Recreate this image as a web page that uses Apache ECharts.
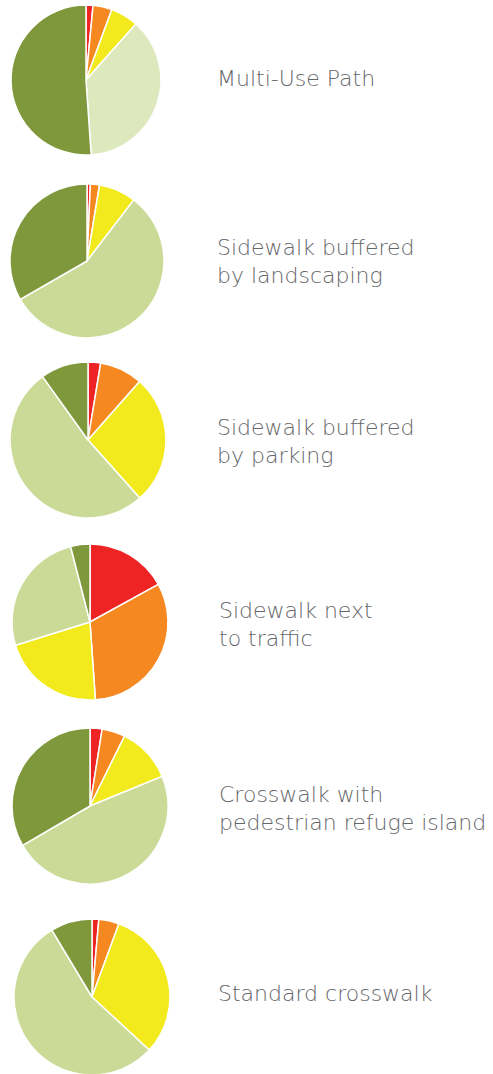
<!DOCTYPE html>
<html>
<head>
<meta charset="utf-8">
<script src="https://cdn.jsdelivr.net/npm/echarts@6/dist/echarts.min.js"></script>
<style>
  html, body { margin: 0; padding: 0; background: #fff; }
  #chart { width: 493px; height: 1074px; }
</style>
</head>
<body>
<div id="chart"></div>
<script>
// categories (clockwise from 12 o'clock)
let levels = ['Red', 'Orange', 'Yellow', 'Light green', 'Dark green'];
let facilities = ['Multi-Use Path', 'Sidewalk buffered\nby landscaping', 'Sidewalk buffered\nby parking',
    'Sidewalk next\nto traffic', 'Crosswalk with\npedestrian refuge island', 'Standard crosswalk'];

// shares in percent, one list per pie
let multiUse = [1.5, 4.1, 6.0, 37.3, 51.1];
let bufLandscape = [0.7, 1.9, 7.8, 56.3, 33.3];
let bufParking = [2.6, 8.9, 26.9, 51.7, 9.9];
let nextTraffic = [17.0, 31.9, 21.3, 25.8, 4.0];
let refugeIsland = [2.5, 4.8, 11.5, 47.8, 33.4];
let standardCw = [1.4, 4.2, 31.3, 54.5, 8.6];

let allData = [multiUse, bufLandscape, bufParking, nextTraffic, refugeIsland, standardCw];

let colors = ['#ee2324', '#f68821', '#f2ea1c', '#cbdb97', '#7f983b'];

/* 每个饼图的位置 */
let centers = [[86, 80], [87, 261], [88, 440], [90, 622], [90, 806], [92, 997]];
let radii = [75, 77, 78, 78, 78, 78];
let labelPos = [[217, 78], [217, 261], [217, 441], [219, 624], [219, 808], [218, 993]];

let chart = echarts.init(document.getElementById('chart'), null, {renderer: 'svg'});

let series = allData.map(function (vals, i) {
    return {
        type: 'pie',
        center: centers[i],
        radius: radii[i],
        startAngle: 90,
        clockwise: true,
        silent: true,
        label: {show: false},
        labelLine: {show: false},
        itemStyle: {borderColor: '#fff', borderWidth: 1.5},
        data: vals.map(function (v, k) {
            let c = colors[k];
            if (i === 0 && k === 3) c = '#dde8bd';
            return {name: levels[k], value: v, itemStyle: {color: c}};
        })
    };
});

let texts = facilities.map(function (t, i) {
    return {
        type: 'text',
        left: labelPos[i][0],
        top: labelPos[i][1] - (t.indexOf('\n') >= 0 ? 28 : 14),
        style: {
            text: t,
            fill: '#656669',
            font: '200 22px "DejaVu Sans", sans-serif',
            lineHeight: 28
        }
    };
});

chart.setOption({
    animation: false,
    series: series,
    graphic: texts
});
</script>
</body>
</html>
